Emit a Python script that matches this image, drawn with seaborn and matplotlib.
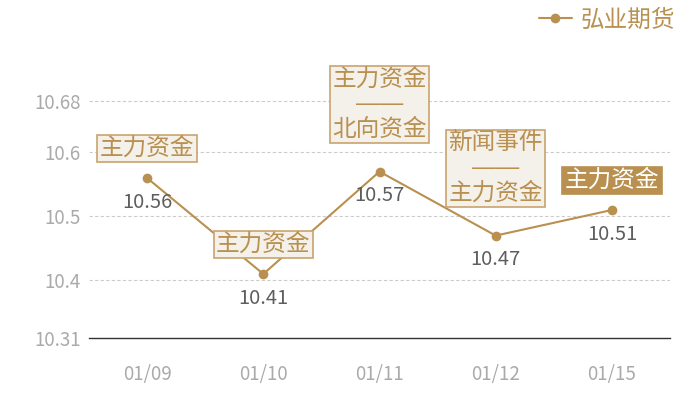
import matplotlib
matplotlib.use("Agg")
import matplotlib.pyplot as plt
import pandas as pd
import seaborn as sns

dates = ["01/09", "01/10", "01/11", "01/12", "01/15"]
prices = [10.56, 10.41, 10.57, 10.47, 10.51]
notes = ["主力资金", "主力资金", "主力资金\n——\n北向资金", "新闻事件\n——\n主力资金", "主力资金"]
y_ticks = [10.31, 10.4, 10.5, 10.6, 10.68]
series_name = "弘业期货"

gold = "#b9904f"
box_bg = "#f4f0ea"
box_edge = "#c9a46e"

sns.set_theme(style="white")
plt.rcParams["font.family"] = ["Noto Sans CJK SC", "DejaVu Sans"]

df = pd.DataFrame({"date": dates, "price": prices})

fig = plt.figure(figsize=(7, 4), dpi=100)
ax = fig.add_axes([89 / 700, 62 / 400, 581 / 700, 298 / 400])

sns.lineplot(data=df, x="date", y="price", ax=ax, color=gold, linewidth=1.5,
             marker="o", markersize=7, markeredgewidth=0, label=series_name,
             sort=False)

ax.set_xlim(-0.5, len(dates) - 0.5)
ax.set_ylim(10.31, 10.31 + 298 / 640)
ax.set_yticks(y_ticks)
ax.set_yticklabels([f"{v:g}" for v in y_ticks])
ax.set_xlabel("")
ax.set_ylabel("")
for v in y_ticks[1:]:
    ax.axhline(v, color="#cccccc", linewidth=0.8, linestyle=(0, (3, 2)), zorder=0)

for s in ["top", "right", "left"]:
    ax.spines[s].set_visible(False)
ax.spines["bottom"].set_color("#333333")
ax.spines["bottom"].set_linewidth(1)
ax.tick_params(axis="both", length=0, colors="#aaaaaa", labelsize=13.5)
ax.tick_params(axis="y", pad=6)
ax.tick_params(axis="x", pad=19)

for i, (p, note) in enumerate(zip(prices, notes)):
    ax.annotate(f"{p:.2f}", (i, p), xytext=(0, -24), textcoords="offset pixels",
                ha="center", va="center", fontsize=14.5, color="#5e5e5e", zorder=4)
    last = i == len(dates) - 1
    two = "\n" in note
    ax.annotate(note, (i, p), xytext=(0, 31 if two else 18), textcoords="offset pixels",
                ha="center", va="bottom", fontsize=17, linespacing=1.17,
                family=["Liberation Sans", "Noto Sans CJK SC"],
                color="white" if last else gold, zorder=5,
                bbox=dict(boxstyle="square,pad=0.1",
                          fc=gold if last else box_bg,
                          ec=gold if last else box_edge, lw=1.2))

leg = ax.legend(loc="upper right", bbox_to_anchor=(685 / 700, 401 / 400),
                bbox_transform=fig.transFigure, frameon=False, fontsize=17,
                handlelength=1.4, handletextpad=0.4, borderaxespad=0)
for t in leg.get_texts():
    t.set_color(gold)

fig.savefig("out.png", dpi=100)
